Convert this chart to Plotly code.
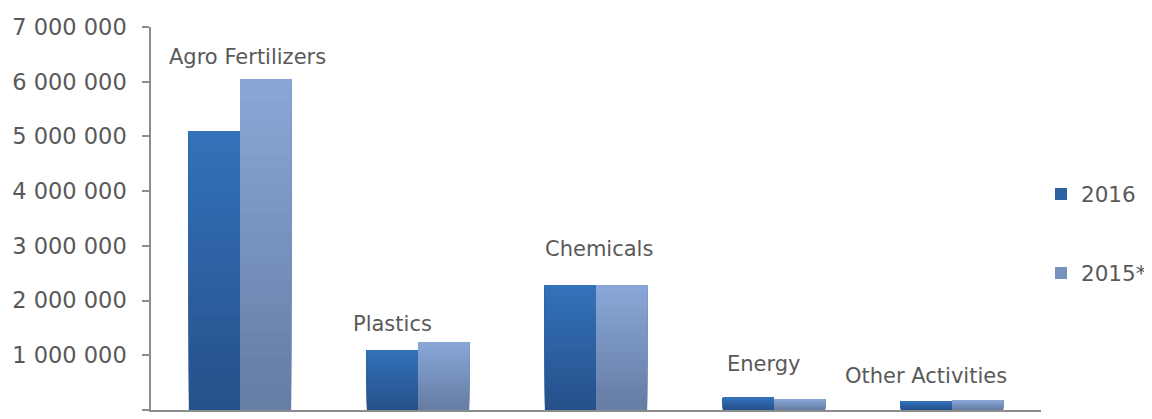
import plotly.graph_objects as go

categories = ["Agro Fertilizers", "Plastics", "Chemicals", "Energy", "Other Activities"]
values_2016 = [5100000, 1090000, 2280000, 220000, 160000]
values_2015 = [6050000, 1240000, 2280000, 200000, 180000]
series_names = ["2016", "2015*"]
y_tickvals = [0, 1000000, 2000000, 3000000, 4000000, 5000000, 6000000, 7000000]

# label placement (pixel offsets relative to category centre / tallest bar)
label_xshift = [7, -26, 3, -10, -26]
label_yshift = [22, 18, 36, 34, 24]

# gradient colours (bottom, top)
grad = {
    "2016": ((0x26, 0x50, 0x8A), (0x33, 0x72, 0xBA)),
    "2015*": ((0x65, 0x7C, 0xA3), (0x89, 0xA7, 0xD8)),
}
N = 30
TEXT = "#595959"
FONT = "DejaVu Sans"

fig = go.Figure()
for name, vals in zip(series_names, [values_2016, values_2015]):
    bot, top = grad[name]
    for i in range(N):
        t = (i + 0.5) / N
        col = "rgb(%d,%d,%d)" % tuple(round(b + (tp - b) * t) for b, tp in zip(bot, top))
        base = [v * i / N for v in vals]
        height = [v - b for v, b in zip(vals, base)]
        fig.add_trace(go.Bar(
            x=categories, y=height, base=base,
            name=name, offsetgroup=name, legendgroup=name,
            showlegend=(i == N // 2),
            marker=dict(color=col, line=dict(width=0)),
            hoverinfo="skip",
        ))

for k, cat in enumerate(categories):
    fig.add_annotation(
        x=cat, y=max(values_2016[k], values_2015[k]), xref="x", yref="y",
        text=cat, showarrow=False, xanchor="center", yanchor="middle",
        xshift=label_xshift[k], yshift=label_yshift[k],
        font=dict(family=FONT, size=21, color=TEXT),
    )

fig.update_layout(
    width=1144, height=411,
    margin=dict(l=143, r=111, t=19, b=9, autoexpand=False),
    paper_bgcolor="white", plot_bgcolor="white",
    barmode="group", bargap=0.425, bargroupgap=0,
    separators=". ",
    showlegend=True,
    legend=dict(
        x=1.0, xanchor="left", y=0.6175, yanchor="top",
        font=dict(family=FONT, size=21.5, color=TEXT),
        tracegroupgap=48, itemwidth=30,
        bgcolor="rgba(0,0,0,0)",
    ),
    font=dict(family=FONT, color=TEXT),
)
fig.update_xaxes(
    showticklabels=False, showgrid=False, zeroline=False,
    showline=True, linecolor="#8C8C8C", linewidth=2, ticks="",
)
fig.update_yaxes(
    range=[0, 7000000], tickvals=y_tickvals, tickformat=",d",
    showgrid=False, zeroline=False,
    showline=True, linecolor="#8C8C8C", linewidth=1.5,
    ticks="outside", ticklen=7, tickcolor="#8C8C8C", tickwidth=1.5,
    ticklabelstandoff=11,
    tickfont=dict(family=FONT, size=22.5, color=TEXT),
)

fig.write_html("out.html")
